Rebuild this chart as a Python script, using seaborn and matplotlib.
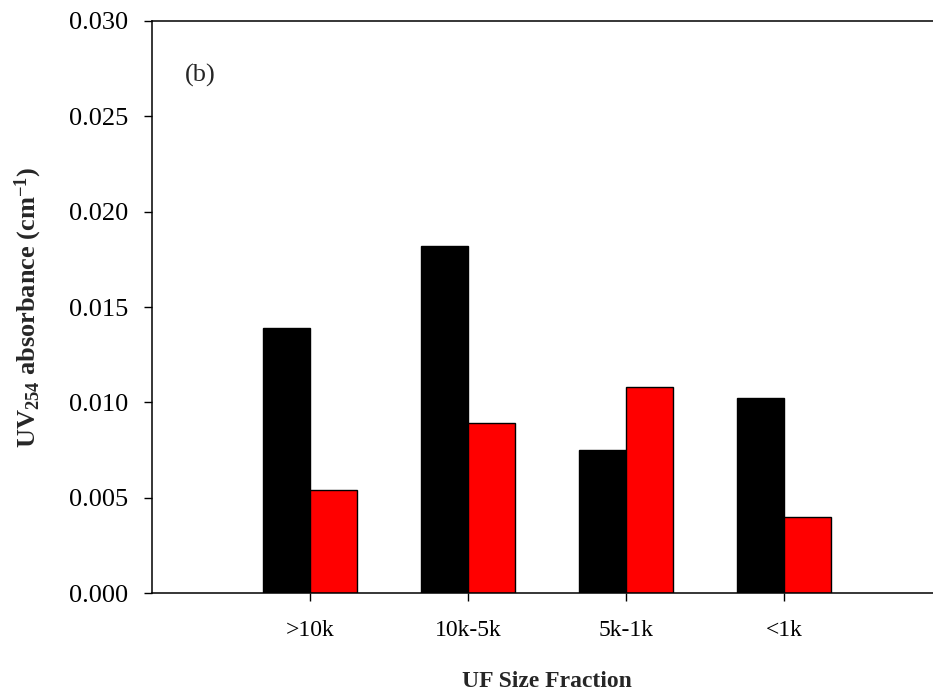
import pandas as pd
import matplotlib
matplotlib.use('Agg')
import matplotlib.pyplot as plt
import seaborn as sns

# ------------------------------------------------------------
# data
# ------------------------------------------------------------
fractions = ['>10k', '10k-5k', '5k-1k', '<1k']
series_names = ['Series 1', 'Series 2']
series_1 = [0.0139, 0.0182, 0.0075, 0.01025]
series_2 = [0.0054, 0.0089, 0.0108, 0.0040]
y_ticks = [0.000, 0.005, 0.010, 0.015, 0.020, 0.025, 0.030]

df = pd.DataFrame({
    'Fraction': fractions * 2,
    'Series': [series_names[0]] * 4 + [series_names[1]] * 4,
    'UV254': series_1 + series_2,
})

sns.set_style('white')
plt.rcParams.update({
    'font.family': ['Liberation Serif', 'DejaVu Serif'],
    'mathtext.default': 'regular',
    'axes.linewidth': 1.1,
    'xtick.direction': 'out',
    'ytick.direction': 'out',
})

fig = plt.figure(figsize=(9.33, 6.97), dpi=100)
ax = fig.add_axes([0.1629, 0.1488, 0.8467, 0.8214])

sns.barplot(
    data=df, x='Fraction', y='UV254', hue='Series', order=fractions,
    hue_order=series_names, palette=['#000000', '#ff0000'], saturation=1,
    width=0.6, edgecolor='black', linewidth=1.0, errorbar=None,
    legend=False, ax=ax,
)

ax.set_xlim(-1, 4)
ax.set_ylim(0, 0.030)
ax.set_yticks(y_ticks)
ax.set_yticklabels([f'{t:.3f}' for t in y_ticks])

for side in ['left', 'bottom', 'top', 'right']:
    ax.spines[side].set_visible(True)
    ax.spines[side].set_color('black')
    ax.spines[side].set_linewidth(1.1)

ax.tick_params(axis='both', which='major', length=6, width=1.0, colors='black')
ax.tick_params(axis='x', pad=13, labelsize=17, bottom=True)
ax.tick_params(axis='y', pad=11, labelsize=19, left=True)

ax.set_xlabel('UF Size Fraction', fontsize=17, fontweight='bold', labelpad=22)
ax.set_ylabel('UV$_{254}$ absorbance (cm$^{-1}$)', fontsize=19,
              fontweight='bold', labelpad=18)

ax.text(0.042, 0.905, '(b)', transform=ax.transAxes, fontsize=19,
        ha='left', va='center')

fig.savefig('out.png', dpi=100)
plt.close(fig)
